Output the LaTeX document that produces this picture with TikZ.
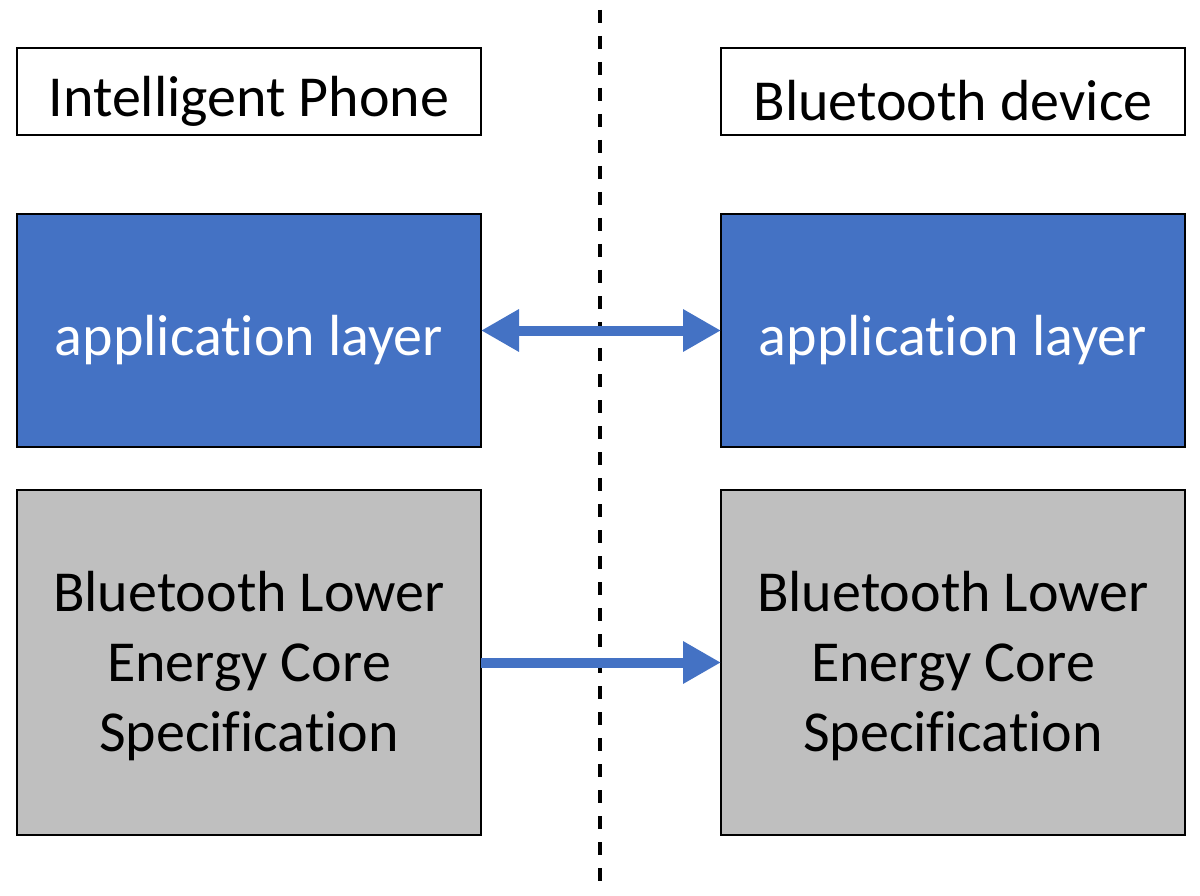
\documentclass[tikz,border=0pt]{standalone}
\usepackage{fontspec}
\setmainfont{Carlito}[Ligatures=NoCommon]
\usepackage{tikz}
\usetikzlibrary{arrows.meta, positioning}
\definecolor{layerblue}{HTML}{4472C4}
\definecolor{coregray}{HTML}{BFBFBF}
\tikzstyle{block} = [rectangle, minimum width=464pt, minimum height=87pt, text centered, draw=black, line width=2.5pt, fill=white, outer sep=0pt, font=\fontsize{58}{70}\selectfont, execute at begin node={\rule{0pt}{59pt}}]
\tikzstyle{applayer} = [block, minimum height=233pt, fill=layerblue, text=white]
\tikzstyle{core} = [block, minimum height=345pt, fill=coregray, align=center, text depth=3pt]
\tikzstyle{arrow} = [line width=10pt, color=layerblue, -{Triangle[length=38pt, width=40pt]}]

\begin{document}
\begin{tikzpicture}[x=1pt, y=1pt]
    \useasboundingbox (0,0) rectangle (1200,-896);
    % Divider
    \coordinate (divtop) at (600,-10);
    \coordinate (divbot) at (600,-888);
    \draw[line width=3.5pt, dash pattern=on 13pt off 13pt] (divtop) -- (divbot);

    % Phone side
    \node[block] (phone) at (249,-91.5) {Intelligent Phone};
    \node[applayer, below=79pt of phone] (phoneapp) {application layer};
    \node[core, below=43pt of phoneapp] (phonecore) {Bluetooth Lower\\Energy Core\\Specification};

    % Device side
    \node[block, right=240pt of phone] (device) {Bluetooth device};
    \node[applayer, below=79pt of device] (deviceapp) {application layer};
    \node[core, below=43pt of deviceapp] (devicecore) {Bluetooth Lower\\Energy Core\\Specification};

    % Arrows
    \draw[arrow, {Triangle[length=38pt, width=40pt]}-{Triangle[length=38pt, width=40pt]}] (phoneapp) -- (deviceapp);
    \draw[arrow] (phonecore) -- (devicecore);
\end{tikzpicture}
\end{document}
